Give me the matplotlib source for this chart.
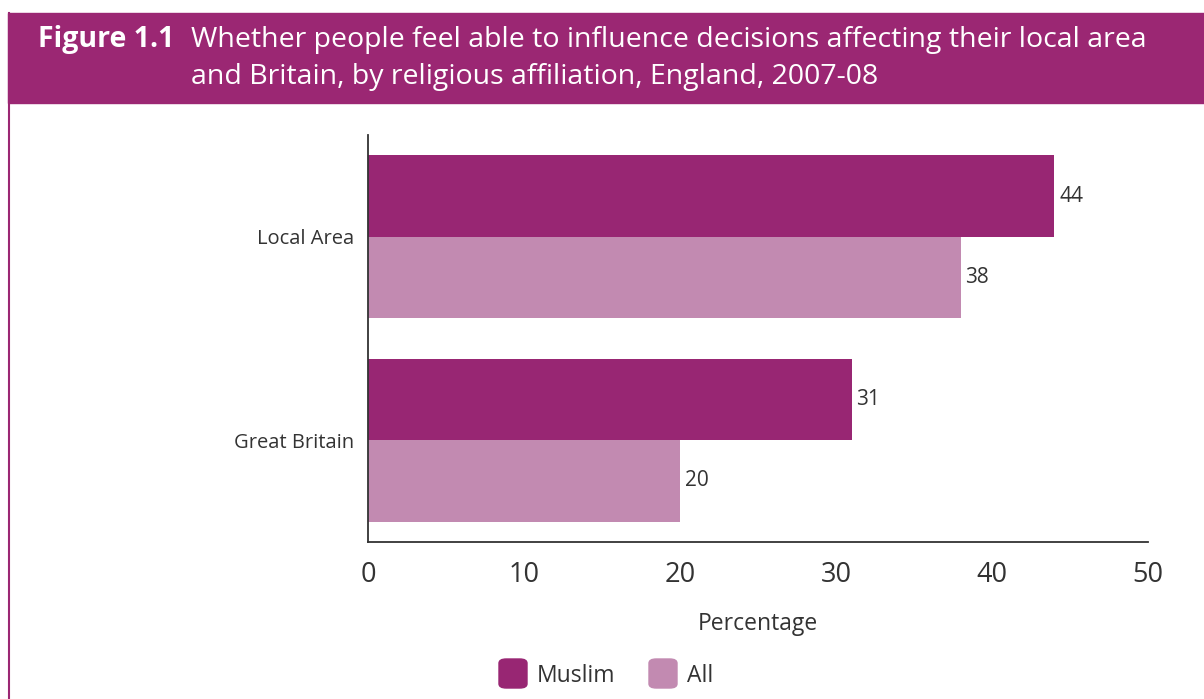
import numpy as np
import matplotlib.pyplot as plt
from matplotlib.patches import Rectangle, FancyBboxPatch
from matplotlib.lines import Line2D

# Survey results, % who feel able to influence decisions
areas = ['Great Britain', 'Local Area']
muslim = [31, 44]
all_people = [20, 38]

dark = '#982673'
light = '#c28ab1'
ink = '#333333'

plt.rcParams['font.family'] = ['Open Sans', 'DejaVu Sans']

fig = plt.figure(figsize=(12.04, 6.99), dpi=100)

# header band and frame
fig.patches.append(Rectangle((8 / 1204, 1 - 103 / 699), 1, 90 / 699,
                             transform=fig.transFigure, color='#9b2773', zorder=0))
fig.lines.append(Line2D([8.5 / 1204, 8.5 / 1204], [0, 1 - 13 / 699],
                        transform=fig.transFigure, color='#9b2773', lw=1.5))
fig.text(38 / 1204, 1 - 40 / 699, 'Figure 1.1', color='white', fontsize=20.5,
         fontweight='bold', va='center', ha='left')
fig.text(191 / 1204, 1 - 40 / 699,
         'Whether people feel able to influence decisions affecting their local area',
         color='white', fontsize=20.5, va='center', ha='left')
fig.text(191 / 1204, 1 - 77 / 699,
         'and Britain, by religious affiliation, England, 2007-08',
         color='white', fontsize=20.5, va='center', ha='left')

ax = fig.add_axes([368 / 1204, 1 - 542 / 699, 780 / 1204, 407 / 699])
y = np.arange(len(areas))
h = 0.4
b1 = ax.barh(y + h / 2, muslim, height=h, color=dark)
b2 = ax.barh(y - h / 2, all_people, height=h, color=light)
for bars, vals in ((b1, muslim), (b2, all_people)):
    for bar, v in zip(bars, vals):
        ax.text(v + 0.3, bar.get_y() + bar.get_height() / 2, str(v),
                va='center', ha='left', fontsize=15, color=ink)

ax.set_xlim(0, 50)
ax.set_ylim(-0.5, 1.5)
ax.set_yticks(y)
ax.set_yticklabels(areas, fontsize=14.5, color=ink)
ax.set_xticks(range(0, 51, 10))
ax.tick_params(axis='x', length=0, labelsize=19.5, labelcolor=ink, pad=14)
ax.tick_params(axis='y', length=0, pad=10)
for s in ('top', 'right'):
    ax.spines[s].set_visible(False)
for s in ('left', 'bottom'):
    ax.spines[s].set_color(ink)
    ax.spines[s].set_linewidth(1.3)
ax.set_xlabel('Percentage', fontsize=16.5, color=ink, labelpad=16)

# legend
for x0, col, lab in ((499, dark, 'Muslim'), (649, light, 'All')):
    fig.patches.append(FancyBboxPatch((x0 / 1204, 1 - 688 / 699), 28 / 1204, 29 / 699,
                                      boxstyle='round,pad=0,rounding_size=0.006',
                                      transform=fig.transFigure, color=col))
    fig.text((x0 + 38) / 1204, 1 - 676 / 699, lab, fontsize=16.5, color=ink,
             va='center', ha='left')

fig.savefig('out.png', dpi=100)
